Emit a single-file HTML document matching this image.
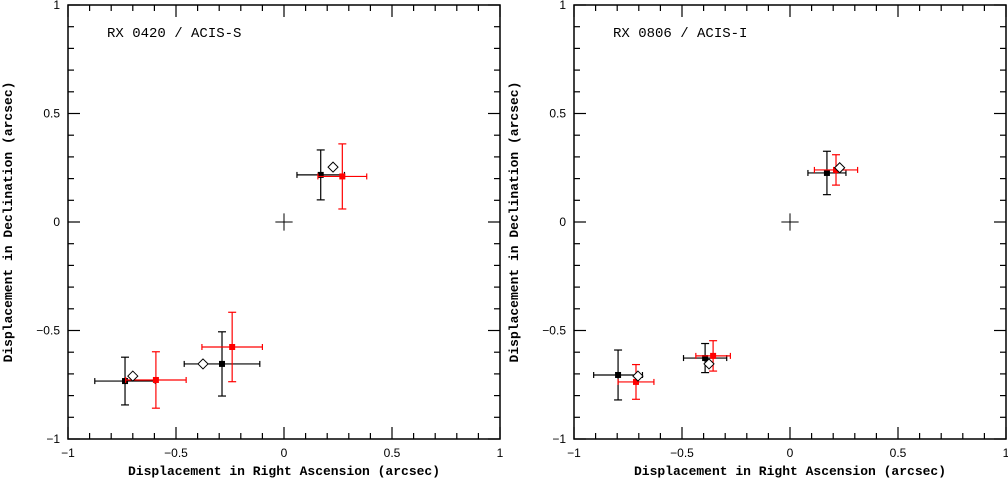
<!DOCTYPE html>
<html><head><meta charset="utf-8"><style>
html,body{margin:0;padding:0;background:#fff;}
svg{display:block;font-family:"Liberation Sans",sans-serif;}
</style></head><body>
<svg id="chart" width="1008" height="482"></svg>
<script>
const panelNames = ["RX 0420 / ACIS-S", "RX 0806 / ACIS-I"];
const tickValues = [-1, -0.5, 0, 0.5, 1];
const tickLabels = ["\u22121", "\u22120.5", "0", "0.5", "1"];
// left panel
const p1BlackX = [-0.736, -0.287, 0.17];
const p1BlackY = [-0.733, -0.654, 0.217];
const p1BlackXe = [0.14, 0.175, 0.11];
const p1BlackYe = [0.11, 0.148, 0.115];
const p1RedX = [-0.593, -0.24, 0.27];
const p1RedY = [-0.728, -0.576, 0.21];
const p1RedXe = [0.14, 0.14, 0.113];
const p1RedYe = [0.13, 0.16, 0.15];
const p1DiaX = [-0.70, -0.375, 0.227];
const p1DiaY = [-0.71, -0.654, 0.253];
// right panel
const p2BlackX = [-0.796, -0.393, 0.171];
const p2BlackY = [-0.705, -0.627, 0.226];
const p2BlackXe = [0.113, 0.1, 0.088];
const p2BlackYe = [0.115, 0.067, 0.1];
const p2RedX = [-0.713, -0.356, 0.213];
const p2RedY = [-0.737, -0.617, 0.24];
const p2RedXe = [0.083, 0.08, 0.1];
const p2RedYe = [0.08, 0.07, 0.07];
const p2DiaX = [-0.704, -0.375, 0.23];
const p2DiaY = [-0.71, -0.654, 0.25];

const svg = document.getElementById('chart');
const NS = "http://www.w3.org/2000/svg";
function mk(tag, attrs, parent){const e=document.createElementNS(NS,tag);for(const k in attrs)e.setAttribute(k,attrs[k]);(parent||svg).appendChild(e);return e;}

const panels = [
 {L:68,R:500,bx:p1BlackX,by:p1BlackY,bxe:p1BlackXe,bye:p1BlackYe,rx:p1RedX,ry:p1RedY,rxe:p1RedXe,rye:p1RedYe,dx:p1DiaX,dy:p1DiaY},
 {L:574,R:1006,bx:p2BlackX,by:p2BlackY,bxe:p2BlackXe,bye:p2BlackYe,rx:p2RedX,ry:p2RedY,rxe:p2RedXe,rye:p2RedYe,dx:p2DiaX,dy:p2DiaY}
];
const T=5,B=439;
panels.forEach((p,pi)=>{
  const g=mk('g',{});
  
  
  const X=v=>p.L+(v+1)/2*(p.R-p.L);
  const Y=v=>B-(v+1)/2*(B-T);
  const frame=mk('rect',{x:p.L,y:T,width:p.R-p.L,height:B-T,fill:'none',stroke:'#000','stroke-width':1.5},g);
  
  
  for(let i=0;i<=20;i++){
    const v=-1+i*0.1, major=(i%5===0), len=major?12:6;
    mk('line',{x1:X(v),x2:X(v),y1:B,y2:B-len,stroke:'#000','stroke-width':1.2},g);
    mk('line',{x1:X(v),x2:X(v),y1:T,y2:T+len,stroke:'#000','stroke-width':1.2},g);
    mk('line',{y1:Y(v),y2:Y(v),x1:p.L,x2:p.L+len,stroke:'#000','stroke-width':1.2},g);
    mk('line',{y1:Y(v),y2:Y(v),x1:p.R,x2:p.R-len,stroke:'#000','stroke-width':1.2},g);
  }
  tickValues.forEach((v,i)=>{
    const tx=mk('text',{x:X(v),y:457,'font-size':12,'text-anchor':'middle'},g);
    tx.textContent=tickLabels[i];
    
    
    const ty=mk('text',{x:p.L-8,y:Y(v)+4,'font-size':12,'text-anchor':'end'},g);
    ty.textContent=tickLabels[i];
    
    
  });
  const xl=mk('text',{x:(p.L+p.R)/2,y:475,'font-size':13,'font-weight':'bold','text-anchor':'middle','font-family':'"Liberation Mono",monospace'},g);
  xl.textContent='Displacement in Right Ascension (arcsec)';
  
  
  const yx=p.L-56, yy=(T+B)/2;
  const yl=mk('text',{x:yx,y:yy,'font-size':13,'font-weight':'bold','text-anchor':'middle','font-family':'"Liberation Mono",monospace',transform:`rotate(-90 ${yx} ${yy})`},g);
  yl.textContent='Displacement in Declination (arcsec)';
  
  
  const tt=mk('text',{x:p.L+39,y:37,'font-size':14,'font-family':'"Liberation Mono",monospace'},g);
  tt.textContent=panelNames[pi];
  
  
  // origin cross
  mk('line',{x1:X(-0.04),x2:X(0.04),y1:Y(0),y2:Y(0),stroke:'#000','stroke-width':1},g);
  mk('line',{x1:X(0),x2:X(0),y1:Y(-0.04),y2:Y(0.04),stroke:'#000','stroke-width':1},g);
  function err(xs,ys,xe,ye,col,name){
    xs.forEach((v,i)=>{
      const eg=mk('g',{stroke:col,'stroke-width':1.2},g);
      
      
      const cx=X(v),cy=Y(ys[i]),x1=X(v-xe[i]),x2=X(v+xe[i]),y1=Y(ys[i]+ye[i]),y2=Y(ys[i]-ye[i]);
      mk('line',{x1:x1,x2:x2,y1:cy,y2:cy},eg);
      mk('line',{x1:cx,x2:cx,y1:y1,y2:y2},eg);
      mk('line',{x1:x1,x2:x1,y1:cy-3,y2:cy+3},eg);
      mk('line',{x1:x2,x2:x2,y1:cy-3,y2:cy+3},eg);
      mk('line',{x1:cx-4,x2:cx+4,y1:y1,y2:y1},eg);
      mk('line',{x1:cx-4,x2:cx+4,y1:y2,y2:y2},eg);
      mk('rect',{x:cx-3,y:cy-3,width:6,height:6,fill:col,stroke:'none'},eg);
    });
  }
  err(p.bx,p.by,p.bxe,p.bye,'#000','black-point');
  err(p.rx,p.ry,p.rxe,p.rye,'#f00','red-point');
  p.dx.forEach((v,i)=>{
    const cx=X(v),cy=Y(p.dy[i]);
    const d=mk('polygon',{points:`${cx},${cy-5} ${cx+5},${cy} ${cx},${cy+5} ${cx-5},${cy}`,fill:'#fff',stroke:'#000','stroke-width':1},g);
    
    
  });
});
</script>
</body></html>
